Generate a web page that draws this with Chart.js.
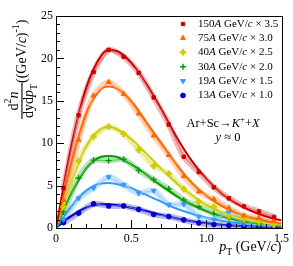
<!DOCTYPE html>
<html>
<head>
<meta charset="utf-8">
<script src="https://cdn.jsdelivr.net/npm/chart.js@4.4.1/dist/chart.umd.min.js"></script>
<style>
  html, body { margin: 0; padding: 0; background: #fff; }
  #wrap { width: 293px; height: 266px; }
</style>
</head>
<body>
<div id="wrap"><canvas id="spectra" width="293" height="266"></canvas></div>
<script>
const ptPoints = [0.05, 0.15, 0.25, 0.35, 0.45, 0.55, 0.65, 0.75, 0.85, 0.95, 1.05, 1.15, 1.25, 1.35, 1.45];
const pt150 = [4.7, 13.3, 18.4, 21.0, 20.2, 18.3, 15.4, 12.2, 8.4, 6.6, 4.8, 3.5, 2.55, 1.95, 1.3];
const pt75  = [3.3, 10.4, 15.6, 17.2, 15.8, 13.5, 10.9, 8.6, 6.1, 4.3, 3.4, 2.35, 1.45, 1.2, 0.8];
const pt40  = [2.5, 7.9, 10.8, 11.95, 11.1, 9.2, 7.3, 6.4, 4.6, 3.1, 2.5, 1.4, 1.0, 0.7, 0.4];
const pt30  = [1.9, 5.9, 8.0, 7.95, 8.1, 6.8, 5.7, 4.6, 3.3, 2.5, 1.7, 1.2, 0.8, 0.5, 0.3];
const pt19  = [1.0, 3.5, 4.7, 6.0, 5.1, 4.1, 4.4, 2.75, 2.8, 1.35, 1.0, 1.8, 0.5, 0.4, 0.2];
const pt13  = [0.65, 1.75, 2.85, 2.6, 2.6, 2.2, 1.6, 1.35, 0.95, 0.6, 0.4, 0.3, 0.2, 0.12, 0.08];

const ptFit = [0, 0.1, 0.2, 0.3, 0.35, 0.4, 0.5, 0.6, 0.7, 0.8, 0.9, 1.0, 1.1, 1.2, 1.3, 1.4, 1.5];
const fit150 = [0, 9.5, 16.5, 20.3, 21.0, 20.9, 19.5, 17.0, 14.0, 10.8, 8.0, 5.8, 4.1, 2.9, 2.0, 1.35, 0.9];
const fit75  = [0, 7.5, 13.5, 16.4, 16.7, 16.5, 15.0, 12.5, 10.0, 7.5, 5.4, 3.8, 2.6, 1.8, 1.2, 0.8, 0.55];
const fit40  = [0, 5.3, 9.6, 11.7, 11.9, 11.7, 10.5, 8.8, 7.0, 5.3, 3.9, 2.7, 1.9, 1.3, 0.85, 0.55, 0.35];
const fit30  = [0, 4.0, 7.0, 8.4, 8.5, 8.4, 7.5, 6.3, 5.0, 3.8, 2.8, 2.0, 1.4, 0.95, 0.63, 0.42, 0.28];
const fit19  = [0, 2.5, 4.4, 5.25, 5.3, 5.2, 4.7, 3.9, 3.1, 2.3, 1.7, 1.2, 0.85, 0.58, 0.4, 0.27, 0.18];
const fit13  = [0, 1.4, 2.4, 2.8, 2.8, 2.7, 2.4, 2.0, 1.55, 1.15, 0.8, 0.55, 0.38, 0.26, 0.17, 0.11, 0.07];

const yTicks = [0, 5, 10, 15, 20, 25];
const xTicks = [0, 0.5, 1, 1.5];

const series = [
    { energy: '150', scale: '3.5', pts: pt150, fit: fit150, rgb: [204, 0, 0], light: '#e26a6a', style: 'rect', radius: 2.4, rot: 0, bw: 1 },
    { energy: '75', scale: '3.0', pts: pt75, fit: fit75, rgb: [255, 102, 0], light: '#ff9a5c', style: 'triangle', radius: 2.8, rot: 0, bw: 1 },
    { energy: '40', scale: '2.5', pts: pt40, fit: fit40, rgb: [204, 204, 0], light: '#dcdc5a', style: 'cross', radius: 3.2, rot: 0, bw: 2.5 },
    { energy: '30', scale: '2.0', pts: pt30, fit: fit30, rgb: [0, 153, 0], light: '#5cbf5c', style: 'cross', radius: 3, rot: 0, bw: 1.4 },
    { energy: '19', scale: '1.5', pts: pt19, fit: fit19, rgb: [51, 153, 255], light: '#9ccbff', style: 'triangle', radius: 2.8, rot: 180, bw: 1 },
    { energy: '13', scale: '1.0', pts: pt13, fit: fit13, rgb: [0, 0, 204], light: '#6a6ae0', style: 'circle', radius: 2.4, rot: 0, bw: 1 }
];

const rgb = (c, a) => a === undefined ? 'rgb(' + c.join(',') + ')' : 'rgba(' + c.join(',') + ',' + a + ')';
const xy = (xs, ys) => xs.map((x, i) => ({ x: x, y: ys[i] }));

const datasets = [];
series.forEach(function(s) {
    // shaded systematic band
    datasets.push({
        data: xy(ptPoints, s.pts), borderColor: rgb(s.rgb, 0.28), borderWidth: 6,
        pointRadius: 0, tension: 0.3, order: 3, borderCapStyle: 'round', borderJoinStyle: 'round'
    });
    // fit
    datasets.push({
        data: xy(ptFit, s.fit), borderColor: rgb(s.rgb), borderWidth: 2,
        pointRadius: 0, cubicInterpolationMode: 'monotone', order: 2
    });
    // data points + thin connector
    datasets.push({
        data: xy(ptPoints, s.pts), borderColor: s.light, borderWidth: 1,
        pointStyle: s.style, pointRadius: s.radius, pointRotation: s.rot,
        pointBackgroundColor: rgb(s.rgb), pointBorderColor: rgb(s.rgb), pointBorderWidth: s.bw,
        order: 1
    });
});

const SERIF = '"Liberation Serif", "DejaVu Serif", serif';

function drawRich(ctx, parts, x, y, size, align) {
    // parts: [text, 'n'|'i'|'sup'|'sub']
    const fontOf = function(p) {
        const sz = (p[1] === 'sup' || p[1] === 'sub') ? size * 0.7 : size;
        return (p[1] === 'i' ? 'italic ' : '') + sz + 'px ' + SERIF;
    };
    let w = 0;
    parts.forEach(function(p) { ctx.font = fontOf(p); w += ctx.measureText(p[0]).width; });
    let cx = align === 'right' ? x - w : align === 'center' ? x - w / 2 : x;
    ctx.textBaseline = 'middle';
    ctx.textAlign = 'left';
    parts.forEach(function(p) {
        ctx.font = fontOf(p);
        let dy = p[1] === 'sup' ? -size * 0.38 : p[1] === 'sub' ? size * 0.38 : 0;
        ctx.fillText(p[0], cx, y + dy);
        cx += ctx.measureText(p[0]).width;
    });
    return w;
}

const decorations = {
    id: 'decorations',
    afterDraw(chart) {
        const ctx = chart.ctx;
        const a = chart.chartArea;
        const xs = chart.scales.x, ys = chart.scales.y;
        ctx.save();
        ctx.strokeStyle = '#000';
        ctx.lineWidth = 1;
        ctx.strokeRect(Math.round(a.left) + 0.5, Math.round(a.top) + 0.5, Math.round(a.right - a.left), Math.round(a.bottom - a.top));
        // inward ticks
        ctx.beginPath();
        for (let v = 0; v <= 25; v += 1) {
            const py = Math.round(ys.getPixelForValue(v)) + 0.5;
            const len = v % 5 === 0 ? 8 : 4;
            ctx.moveTo(a.left, py); ctx.lineTo(a.left + len, py);
        }
        for (let k = 0; k <= 15; k++) {
            const px = Math.round(xs.getPixelForValue(k / 10)) + 0.5;
            const len = k % 5 === 0 ? 8 : 4;
            ctx.moveTo(px, a.bottom); ctx.lineTo(px, a.bottom - len);
        }
        ctx.stroke();

        ctx.fillStyle = '#000';
        // x title
        drawRich(ctx, [['p', 'i'], ['T', 'sub'], [' (GeV/', 'n'], ['c', 'i'], [')', 'n']], a.right, 247, 14, 'right');
        // y title (rotated)
        ctx.save();
        ctx.translate(22, 0);
        ctx.rotate(-Math.PI / 2);
        const fracC = -101;
        drawRich(ctx, [['d', 'n'], ['2', 'sup'], ['n', 'i']], fracC, -8, 14, 'center');
        const wb = drawRich(ctx, [['dyd', 'n'], ['p', 'i'], ['T', 'sub']], fracC, 7, 14, 'center');
        ctx.fillRect(fracC - wb / 2 - 1, -0.6, wb + 2, 1.1);
        drawRich(ctx, [['((GeV/', 'n'], ['c', 'i'], [')', 'n'], ['-1', 'sup'], [')', 'n']], -83, 0, 14, 'left');
        ctx.restore();

        // legend
        const rowY = [24, 38, 52.3, 66.7, 81, 95.5];
        series.forEach(function(s, i) {
            ctx.fillStyle = rgb(s.rgb);
            ctx.strokeStyle = rgb(s.rgb);
            ctx.lineWidth = s.bw;
            Chart.helpers.drawPoint(ctx, { pointStyle: s.style, radius: s.radius, rotation: s.rot, borderWidth: s.bw }, 183, rowY[i]);
            ctx.fillStyle = '#000';
            drawRich(ctx, [[s.energy, 'n'], ['A', 'i'], [' GeV/', 'n'], ['c', 'i'], [' \u00d7 ' + s.scale, 'n']], 198, rowY[i], 11, 'left');
        });

        // reaction label
        drawRich(ctx, [['Ar+Sc\u2192', 'n'], ['K', 'i'], ['+', 'sup'], ['+', 'n'], ['X', 'i']], 223, 124, 12.5, 'center');
        drawRich(ctx, [['y', 'i'], [' \u2248 0', 'n']], 228, 138, 12.5, 'center');
        ctx.restore();
    }
};

new Chart(document.getElementById('spectra').getContext('2d'), {
    type: 'line',
    data: { datasets: datasets },
    options: {
        responsive: false,
        animation: false,
        layout: { padding: { top: 16, right: 10, left: 0, bottom: 0 } },
        plugins: { legend: { display: false }, tooltip: { enabled: false } },
        scales: {
            x: {
                type: 'linear', min: 0, max: 1.5,
                grid: { display: false, drawTicks: false },
                border: { display: false },
                afterBuildTicks: function(scale) { scale.ticks = xTicks.map(v => ({ value: v })); },
                afterFit: function(scale) { scale.height = 38; },
                ticks: { color: '#000', padding: 4, maxRotation: 0, font: { family: SERIF, size: 12 } }
            },
            y: {
                min: 0, max: 25,
                grid: { display: false, drawTicks: false },
                border: { display: false },
                afterBuildTicks: function(scale) { scale.ticks = yTicks.map(v => ({ value: v })); },
                afterFit: function(scale) { scale.width = 56; },
                ticks: { color: '#000', padding: 3, font: { family: SERIF, size: 12 } }
            }
        }
    },
    plugins: [decorations]
});
</script>
</body>
</html>
